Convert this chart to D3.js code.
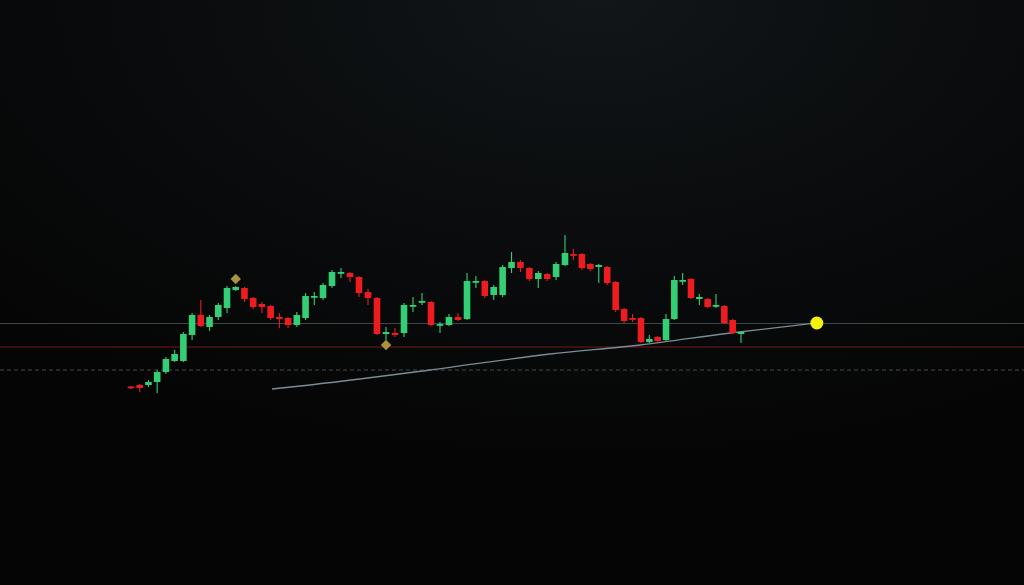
<!DOCTYPE html>
<html>
<head>
<meta charset="utf-8">
<script src="https://cdn.jsdelivr.net/npm/d3@7"></script>
<style>
html,body{margin:0;padding:0;background:#060707;overflow:hidden;}
svg{display:block;}
</style>
</head>
<body>
<svg id="chart" width="1024" height="585"></svg>
<script>
// ---- data ----
const openP  = [106.75,107.5,107.5,109,114,119.5,119.5,132.5,142.5,136.5,141.5,146,155,156,151,148,147,141.5,141,137.5,141,151.5,151,157,163.5,163.5,161.5,154,151,133,133.5,133.5,147,149,149,137.5,137.5,141.5,140.5,159,159.5,152.5,152.5,166,169,166,160.5,163,161.5,167.5,173,173,168,166.5,166.5,159,145.5,141,141,129,131.5,130,140.5,159.5,160.5,150.5,150.5,147,147,140,133];
const highP  = [107,108,110,115,121.5,125,134,143.5,150,142.5,148.5,157,157,156.5,151.5,149,147.5,143.5,141.5,144,153.5,154,158.5,165,166,164,162,155.5,151.5,136.5,136,148.5,151.5,153.5,149.5,139,143,143.5,163.5,162,160,157.5,167.5,174,170,166.5,164.5,163.5,169,182.5,175.5,173.5,168.5,168,167,159.5,146,143,141.5,132.5,132,143,162,163.5,161,153,151,153,147.5,140.5,134.5];
const lowP   = [105.5,104,106.5,103.5,113,119,119,130,136.5,134.5,140,143.5,154.5,149,145.5,143.5,140,136,136,136.5,140,147.5,150,156,161,159,151.5,147.5,132.5,130,131.5,131.5,144,147.5,137,133.5,137,139.5,140,156,151,150,151.5,163.5,164,159.5,156,159.5,160,167,170,165,164.5,158.5,157.5,144,138.5,139,128.5,128.5,129,129.5,140,157.5,150.5,147.5,146,146,138,133,128.5];
const closeP = [106.25,106,109,114,120.5,123,133,142.5,137,141.5,147.5,156,156.5,150.5,146.5,146.5,141,140.5,137.5,142.5,152,152,157.5,164,164,161.5,153.5,151,133,134,132.5,147.5,147.5,149.5,137.5,138,141.5,140,159.5,159.5,152,156.5,166.5,169,166,160.5,163.5,160.5,168,173.5,172.5,166,165.5,167.5,158.5,145,139.5,140.5,129,130.5,129.5,140.5,160,160,151,151.5,146.5,147.5,138.5,133.5,134];
const bars = d3.range(openP.length);

// reference levels and signals
const levelPrices = [138.25, 126.5, 115];
const signalBars  = [12, 29];          // zero-based bar index
const signalSide  = ["above", "below"];
// trend line (bar position, price)
const trendX = [16.15, 19.4, 33.9, 47.3, 57.9, 68.7, 79.1];
const trendY = [105.5, 107, 115, 123, 127.5, 133.5, 138.5];

// ---- drawing ----
const W = 1024, H = 585;
const svg = d3.select("#chart");
const defs = svg.append("defs");
const rg = defs.append("radialGradient").attr("id","bg")
  .attr("cx","58%").attr("cy","0%").attr("r","80%");
rg.append("stop").attr("offset","0%").attr("stop-color","#121619");
rg.append("stop").attr("offset","50%").attr("stop-color","#0a0c0d");
rg.append("stop").attr("offset","100%").attr("stop-color","#050505");
svg.append("rect").attr("width",W).attr("height",H).attr("fill","url(#bg)");

// bar spacing of the source is slightly uneven: piecewise time scale
const x = d3.scaleLinear().domain([0, 22, 38, 49, 58, 70]).range([131, 323, 467, 565, 641, 741]);
const y = d3.scaleLinear().domain([7.5, 300]).range([H, 0]);

const levelStyle = [
  {stroke:"#3a464c", dash:null, w:1.2},
  {stroke:"#741b1b", dash:null, w:1.2},
  {stroke:"#45494c", dash:"4,3", w:1}
];
svg.append("g").selectAll("line").data(levelPrices).join("line")
  .attr("x1",0).attr("x2",W)
  .attr("y1",d=>y(d)).attr("y2",d=>y(d))
  .attr("stroke",(d,i)=>levelStyle[i].stroke)
  .attr("stroke-width",(d,i)=>levelStyle[i].w)
  .attr("stroke-dasharray",(d,i)=>levelStyle[i].dash);

// trend line
const trendPts = trendX.map((d,i)=>[d, trendY[i]]);
svg.append("path").datum(trendPts)
  .attr("fill","none").attr("stroke","#7c8c94").attr("stroke-width",1.3)
  .attr("d", d3.line().x(d=>x(d[0])).y(d=>y(d[1])).curve(d3.curveMonotoneX));

const green = "#34cf74", red = "#ec1c1f";
const col = i => closeP[i] >= openP[i] ? green : red;
const bw = 6.6;

const g = svg.append("g");
g.selectAll("line.wick").data(bars).join("line").attr("class","wick")
  .attr("x1",i=>x(i)).attr("x2",i=>x(i))
  .attr("y1",i=>y(highP[i])).attr("y2",i=>y(lowP[i]))
  .attr("stroke",col).attr("stroke-width",1.1);
g.selectAll("rect.body").data(bars).join("rect").attr("class","body")
  .attr("x",i=>x(i)-bw/2).attr("width",bw)
  .attr("y",i=>y(Math.max(openP[i],closeP[i])))
  .attr("height",i=>Math.max(1.8, Math.abs(y(openP[i])-y(closeP[i]))))
  .attr("fill",col);

// signal diamonds
svg.append("g").selectAll("path").data(signalBars).join("path")
  .attr("d", d3.symbol().type(d3.symbolDiamond2).size(70))
  .attr("transform",(d,i)=>{
    const py = signalSide[i]==="above" ? y(highP[d]) - 7 : y(lowP[d]) + 5;
    return `translate(${x(d)},${py})`;
  })
  .attr("fill","#a8923a");

// end dot
svg.append("circle")
  .attr("cx", x(trendX[trendX.length-1]))
  .attr("cy", y(trendY[trendY.length-1]))
  .attr("r", 6.5).attr("fill","#f4f20c");
</script>
</body>
</html>
